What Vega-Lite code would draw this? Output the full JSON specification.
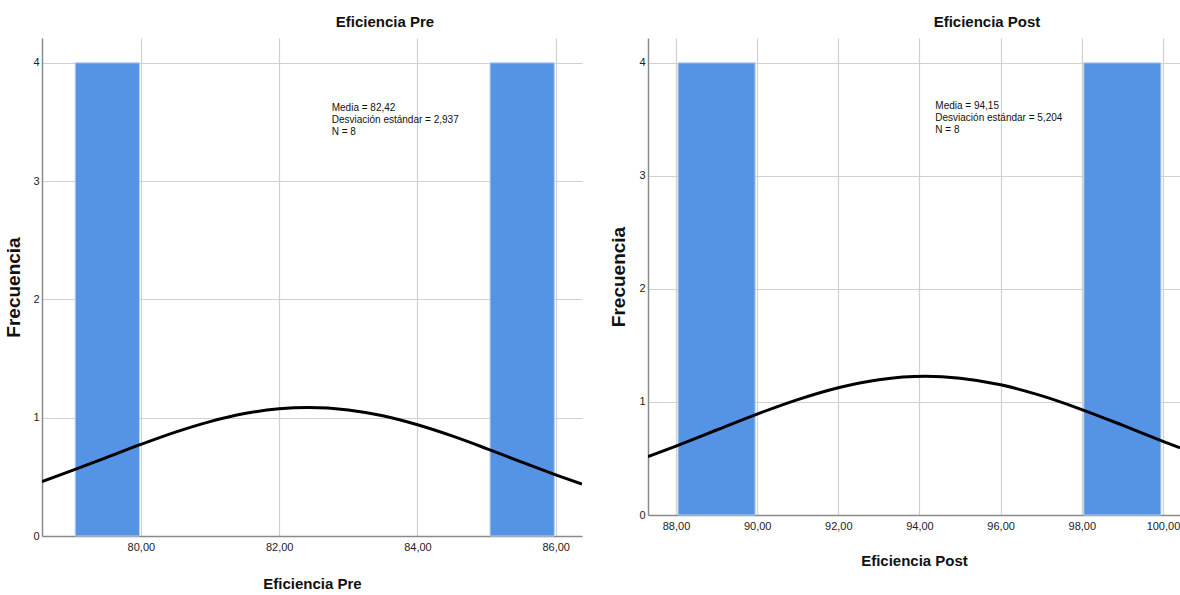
{
  "$schema": "https://vega.github.io/schema/vega-lite/v6.json",
  "background": "white",
  "padding": {"left": 4, "top": 15, "right": 0, "bottom": 0},
  "spacing": 27,
  "datasets": {
    "preBars": [
      {"start": 79.05, "end": 79.98, "count": 4},
      {"start": 85.05, "end": 85.98, "count": 4}
    ],
    "preCurve": [
      {"x": 78.57, "y": 0.460}, {"x": 79.0, "y": 0.552}, {"x": 79.5, "y": 0.663},
      {"x": 80.0, "y": 0.774}, {"x": 80.5, "y": 0.878}, {"x": 81.0, "y": 0.967},
      {"x": 81.5, "y": 1.035}, {"x": 82.0, "y": 1.076}, {"x": 82.42, "y": 1.087},
      {"x": 83.0, "y": 1.066}, {"x": 83.5, "y": 1.016}, {"x": 84.0, "y": 0.940},
      {"x": 84.5, "y": 0.846}, {"x": 85.0, "y": 0.739}, {"x": 85.5, "y": 0.627},
      {"x": 86.0, "y": 0.517}, {"x": 86.38, "y": 0.438}
    ],
    "preStats": [
      {"x": 82.76, "y": 3.66, "label": "Media = 82,42\nDesviación estándar = 2,937\nN = 8"}
    ],
    "postBars": [
      {"start": 88.05, "end": 89.95, "count": 4},
      {"start": 98.05, "end": 99.95, "count": 4}
    ],
    "postCurve": [
      {"x": 87.31, "y": 0.516}, {"x": 88.0, "y": 0.610}, {"x": 89.0, "y": 0.752},
      {"x": 90.0, "y": 0.893}, {"x": 91.0, "y": 1.021}, {"x": 92.0, "y": 1.126},
      {"x": 93.0, "y": 1.197}, {"x": 94.15, "y": 1.227}, {"x": 95.0, "y": 1.210},
      {"x": 96.0, "y": 1.152}, {"x": 97.0, "y": 1.056}, {"x": 98.0, "y": 0.933},
      {"x": 99.0, "y": 0.795}, {"x": 100.0, "y": 0.652}, {"x": 100.42, "y": 0.594}
    ],
    "postStats": [
      {"x": 94.39, "y": 3.66, "label": "Media = 94,15\nDesviación estándar = 5,204\nN = 8"}
    ]
  },
  "hconcat": [
    {
      "width": 540,
      "height": 498,
      "title": {"text": "Eficiencia Pre", "dx": 73},
      "layer": [
        {
          "data": {"name": "preBars"},
          "mark": {"type": "rect", "fill": "#5594e4", "stroke": "#b5d0f2", "strokeWidth": 1},
          "encoding": {
            "x": {"field": "start", "type": "quantitative",
                  "scale": {"domain": [78.57, 86.38], "nice": false, "zero": false},
                  "axis": {"values": [80, 82, 84, 86], "labelExpr": "replace(format(datum.value, '.2f'), '.', ',')", "title": "Eficiencia Pre", "titlePadding": 24}},
            "x2": {"field": "end"},
            "y": {"field": "count", "type": "quantitative",
                  "scale": {"domain": [0, 4.21], "nice": false},
                  "axis": {"values": [0, 1, 2, 3, 4], "format": "d", "title": "Frecuencia", "titlePadding": 9}},
            "y2": {"datum": 0}
          }
        },
        {
          "data": {"name": "preCurve"},
          "mark": {"type": "line", "color": "#000000", "strokeWidth": 3, "interpolate": "monotone", "clip": true},
          "encoding": {
            "x": {"field": "x", "type": "quantitative"},
            "y": {"field": "y", "type": "quantitative"}
          }
        },
        {
          "data": {"name": "preStats"},
          "mark": {"type": "text", "align": "left", "baseline": "top", "lineBreak": "\n", "lineHeight": 12, "fontSize": 10, "font": "Liberation Sans, sans-serif", "color": "#111111"},
          "encoding": {
            "x": {"field": "x", "type": "quantitative"},
            "y": {"field": "y", "type": "quantitative"},
            "text": {"field": "label"}
          }
        }
      ]
    },
    {
      "width": 532,
      "height": 477,
      "title": {"text": "Eficiencia Post", "dx": 73},
      "layer": [
        {
          "data": {"name": "postBars"},
          "mark": {"type": "rect", "fill": "#5594e4", "stroke": "#b5d0f2", "strokeWidth": 1},
          "encoding": {
            "x": {"field": "start", "type": "quantitative",
                  "scale": {"domain": [87.31, 100.42], "nice": false, "zero": false},
                  "axis": {"values": [88, 90, 92, 94, 96, 98, 100], "labelExpr": "replace(format(datum.value, '.2f'), '.', ',')", "title": "Eficiencia Post", "titlePadding": 22}},
            "x2": {"field": "end"},
            "y": {"field": "count", "type": "quantitative",
                  "scale": {"domain": [0, 4.22], "nice": false},
                  "axis": {"values": [0, 1, 2, 3, 4], "format": "d", "title": "Frecuencia", "titlePadding": 10}},
            "y2": {"datum": 0}
          }
        },
        {
          "data": {"name": "postCurve"},
          "mark": {"type": "line", "color": "#000000", "strokeWidth": 3, "interpolate": "monotone", "clip": true},
          "encoding": {
            "x": {"field": "x", "type": "quantitative"},
            "y": {"field": "y", "type": "quantitative"}
          }
        },
        {
          "data": {"name": "postStats"},
          "mark": {"type": "text", "align": "left", "baseline": "top", "lineBreak": "\n", "lineHeight": 12, "fontSize": 10, "font": "Liberation Sans, sans-serif", "color": "#111111"},
          "encoding": {
            "x": {"field": "x", "type": "quantitative"},
            "y": {"field": "y", "type": "quantitative"},
            "text": {"field": "label"}
          }
        }
      ]
    }
  ],
  "config": {
    "view": {"stroke": null},
    "title": {"font": "Liberation Sans, sans-serif", "fontSize": 15, "fontWeight": "bold", "color": "#111111", "offset": 8, "anchor": "middle"},
    "axis": {
      "labelFont": "Liberation Sans, sans-serif",
      "labelFontSize": 11,
      "labelColor": "#222222",
      "titleFont": "Liberation Sans, sans-serif",
      "titleFontSize": 15,
      "titleFontWeight": "bold",
      "titleColor": "#111111",
      "domainColor": "#8a8a8a",
      "domainWidth": 1.5,
      "gridColor": "#d0d0d0",
      "gridWidth": 1.2,
      "ticks": false,
      "labelPadding": 5
    },
    "axisY": {"titleFontSize": 19, "labelPadding": 3}
  }
}
